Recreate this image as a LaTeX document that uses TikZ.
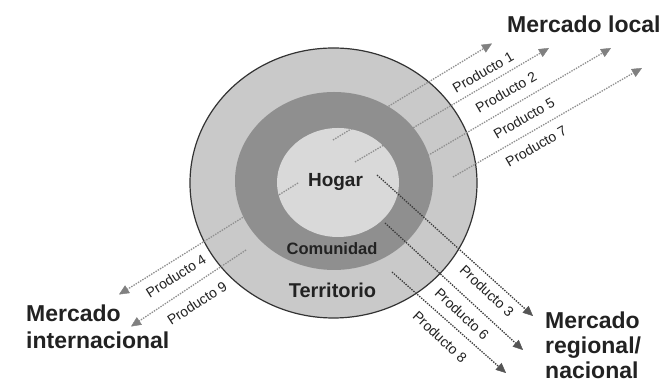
\documentclass[tikz,border=0pt]{standalone}
\usepackage{fontspec}
\setmainfont{Liberation Sans}
\usetikzlibrary{arrows.meta}

\definecolor{ringlight}{HTML}{C9C9C9}
\definecolor{ringdark}{HTML}{8F8F8F}
\definecolor{core}{HTML}{D9D9D9}
\definecolor{rim}{HTML}{333333}
\definecolor{ink}{HTML}{222222}
\definecolor{flowlite}{HTML}{8F8F8F}
\definecolor{flowdark}{HTML}{3C3C3C}
\definecolor{tiplite}{HTML}{808080}
\definecolor{tipdark}{HTML}{555555}

\begin{document}
\begin{tikzpicture}[x=1pt,y=1pt,
  liteflow/.style={draw=flowlite, line width=1.3pt, dash pattern=on 1.4pt off 1.2pt,
    -{Triangle[length=10pt,width=9pt,fill=tiplite,color=tiplite,line width=0.4pt]}},
  darkflow/.style={draw=flowdark, line width=1.3pt, dash pattern=on 1.4pt off 1.2pt,
    -{Triangle[length=10pt,width=9pt,fill=tipdark,color=tipdark,line width=0.4pt]}},
  prodlabel/.style={inner sep=0pt, text=ink, font=\fontsize{14}{16}\selectfont},
  market/.style={inner sep=0pt, text=ink, align=left, anchor=north west,
    font=\bfseries\fontsize{23}{27}\selectfont},
  level/.style={inner sep=0pt, text=ink, anchor=base, font=\bfseries}]

\fill[white] (0,0) rectangle (665,382);
\useasboundingbox (0,0) rectangle (665,382);

% territory, community and household rings
\filldraw[fill=ringlight, draw=rim, line width=1.2pt] (333.5,199) ellipse [x radius=143.5, y radius=135];
\fill[ringdark] (334,201) ellipse [x radius=99, y radius=89];
\fill[core] (338,199.5) ellipse [x radius=61, y radius=54.5];

% ring names
\node[level, font=\bfseries\fontsize{19}{22}\selectfont] (hogar) at (335.5,195.3) {Hogar};
\node[level, font=\bfseries\fontsize{16.5}{19}\selectfont] (comunidad) at (332,127) {Comunidad};
\node[level, font=\bfseries\fontsize{20}{23}\selectfont] (territorio) at (332.5,84) {Territorio};

% markets
\node[market, anchor=base west] (local) at (507,349) {Mercado local};
\node[market] (internacional) at (26,77.8) {Mercado\\internacional};
\node[market, font=\bfseries\fontsize{23}{25}\selectfont] (regional) at (545,70.8) {Mercado\\regional/\\nacional};

% flow end points
\coordinate (p1s) at (333,242); \coordinate (p1e) at (492,338.5);
\coordinate (p2s) at (355,220); \coordinate (p2e) at (549,334);
\coordinate (p5s) at (410,216); \coordinate (p5e) at (611,334);
\coordinate (p7s) at (453,205); \coordinate (p7e) at (642,314);
\coordinate (p4s) at (298,199); \coordinate (p4e) at (119,87.5);
\coordinate (p9s) at (246,132); \coordinate (p9e) at (131,55.5);
\coordinate (p3s) at (377,207); \coordinate (p3e) at (533,66);
\coordinate (p6s) at (385,159); \coordinate (p6e) at (523,32);
\coordinate (p8s) at (392,110); \coordinate (p8e) at (506,9);

% flows to the local market
\draw[liteflow] (p1s) -- (p1e);
\draw[liteflow] (p2s) -- (p2e);
\draw[liteflow] (p5s) -- (p5e);
\draw[liteflow] (p7s) -- (p7e);
% flows to the international market
\draw[liteflow] (p4s) -- (p4e);
\draw[liteflow] (p9s) -- (p9e);
% flows to the regional / national market
\draw[darkflow] (p3s) -- (p3e);
\draw[darkflow] (p6s) -- (p6e);
\draw[darkflow] (p8s) -- (p8e);

% product labels
\node[prodlabel, rotate=30] (l1) at (483,310) {Producto 1};
\node[prodlabel, rotate=30] (l2) at (506,290) {Producto 2};
\node[prodlabel, rotate=30] (l5) at (524,264) {Producto 5};
\node[prodlabel, rotate=30] (l7) at (536,236) {Producto 7};
\node[prodlabel, rotate=32] (l4) at (176,106) {Producto 4};
\node[prodlabel, rotate=33] (l9) at (197,79) {Producto 9};
\node[prodlabel, rotate=-43] (l3) at (487,91) {Producto 3};
\node[prodlabel, rotate=-43] (l6) at (462,68) {Producto 6};
\node[prodlabel, rotate=-43] (l8) at (440,45) {Producto 8};
\end{tikzpicture}
\end{document}
